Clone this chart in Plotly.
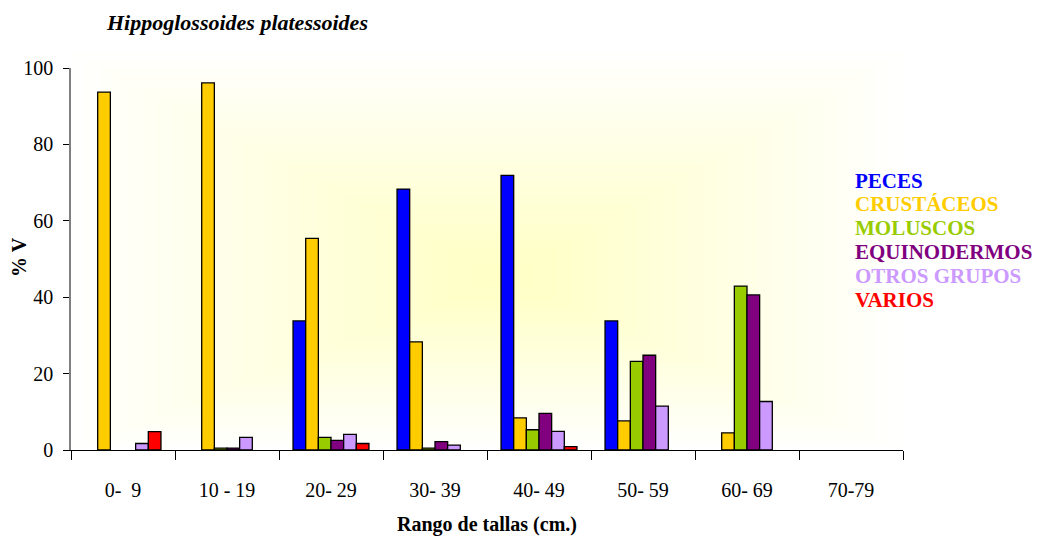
import plotly.graph_objects as go

categories = ["0-\u00a0\u00a09", "10 - 19", "20-\u00a029", "30-\u00a039", "40-\u00a049", "50-\u00a059", "60-\u00a069", "70-79"]
peces = [None, None, 33.8, 68.3, 71.9, 33.8, None, None]
crustaceos = [93.7, 96.1, 55.4, 28.3, 8.4, 7.6, 4.5, None]
moluscos = [None, 0.5, 3.3, 0.5, 5.3, 23.2, 42.9, None]
equinodermos = [None, 0.5, 2.5, 2.2, 9.6, 24.8, 40.6, None]
otros = [1.7, 3.3, 4.1, 1.3, 4.9, 11.5, 12.7, None]
varios = [4.8, None, 1.7, None, 0.9, None, None, None]

series = [
    ("PECES", peces, "#0000FF"),
    ("CRUSTÁCEOS", crustaceos, "#FFCC00"),
    ("MOLUSCOS", moluscos, "#99CC00"),
    ("EQUINODERMOS", equinodermos, "#800080"),
    ("OTROS GRUPOS", otros, "#CC99FF"),
    ("VARIOS", varios, "#FF0000"),
]

font = "Liberation Serif, Times New Roman, serif"
fig = go.Figure()
for name, vals, col in series:
    fig.add_trace(go.Bar(x=categories, y=vals, name=name,
                         marker=dict(color=col, line=dict(color="black", width=1.3)), showlegend=False))

# rectangular "from centre" background gradient
shapes = []
n = 30
for i in range(n):
    f = i / n
    cx, cy = 0.52, 0.45
    x0 = cx - (1 - f) * cx
    x1 = cx + (1 - f) * (1 - cx)
    y0 = cy - (1 - f) * cy
    y1 = cy + (1 - f) * (1.04 - cy)
    shapes.append(dict(type="rect", xref="x domain", yref="y domain", x0=x0, x1=x1, y0=y0, y1=y1,
                       fillcolor="#FFFF99", opacity=0.019, line=dict(width=0), layer="below"))

annotations = [
    dict(text="<b><i>Hippoglossoides platessoides</i></b>", xref="paper", yref="paper",
         x=(104 - 71) / 832, y=1 + (68 - 22) / 382, xanchor="left", yanchor="middle",
         showarrow=False, font=dict(family=font, size=22, color="black")),
    dict(text="<b>% V</b>", xref="paper", yref="paper", textangle=-90,
         x=(19 - 71) / 832, y=(450 - 257) / 382, xanchor="center", yanchor="middle",
         showarrow=False, font=dict(family=font, size=20, color="black")),
]
ys = [181, 204, 228, 252, 276, 300]
for (name, vals, col), yy in zip(series, ys):
    annotations.append(dict(text="<b>" + name + "</b>", xref="paper", yref="paper",
                            x=(853 - 71) / 832, y=(450 - yy) / 382, xanchor="left", yanchor="middle",
                            showarrow=False, font=dict(family=font, size=21, color=col)))

fig.update_layout(
    width=1037, height=538,
    margin=dict(l=71, r=134, t=68, b=88),
    paper_bgcolor="white", plot_bgcolor="white",
    barmode="group", bargap=0.27, bargroupgap=0,
    shapes=shapes, annotations=annotations,
    font=dict(family=font, size=20, color="black"),
    xaxis=dict(showline=True, linecolor="black", linewidth=1, ticks="outside", ticklen=9, tickcolor="black",
               tickson="boundaries", showgrid=False, tickfont=dict(size=20), ticklabelstandoff=22,
               automargin=False,
               title=dict(text="<b>Rango de tallas (cm.)</b>", font=dict(size=20), standoff=16)),
    yaxis=dict(range=[0, 100], dtick=20, showline=True, linecolor="#808080", linewidth=1.5, ticks="outside",
               ticklen=6, tickcolor="black", showgrid=False, zeroline=False, tickfont=dict(size=20),
               ticklabelstandoff=6, automargin=False),
)

fig.write_html("out.html")
